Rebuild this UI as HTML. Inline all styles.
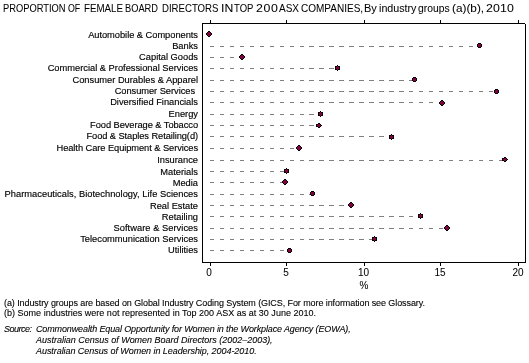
<!DOCTYPE html>
<html><head><meta charset="utf-8"><style>
html,body{margin:0;padding:0;background:#fff;width:529px;height:363px;overflow:hidden;position:relative}
body{font-family:"Liberation Sans",sans-serif;color:#000}
#wrap{position:absolute;left:0;top:0;width:529px;height:363px;will-change:transform}
.a{position:absolute;white-space:nowrap;line-height:12px;-webkit-text-stroke:0.15px #000}
svg{position:absolute;left:0;top:0;shape-rendering:crispEdges}
</style></head><body><div id="wrap">
<svg width="529" height="363" viewBox="0 0 529 363"><path d="M210 46h4v1h-4zM220 46h4v1h-4zM230 46h4v1h-4zM240 46h4v1h-4zM250 46h4v1h-4zM260 46h4v1h-4zM270 46h4v1h-4zM280 46h4v1h-4zM290 46h4v1h-4zM300 46h4v1h-4zM309 46h5v1h-5zM319 46h5v1h-5zM329 46h5v1h-5zM339 46h5v1h-5zM349 46h5v1h-5zM359 46h5v1h-5zM369 46h5v1h-5zM379 46h5v1h-5zM389 46h5v1h-5zM399 46h5v1h-5zM409 46h4v1h-4zM419 46h4v1h-4zM429 46h4v1h-4zM439 46h4v1h-4zM449 46h4v1h-4zM459 46h4v1h-4zM469 46h4v1h-4zM210 57h4v1h-4zM220 57h4v1h-4zM230 57h4v1h-4zM240 57h2v1h-2zM210 68h4v1h-4zM220 68h4v1h-4zM230 68h4v1h-4zM240 68h4v1h-4zM250 68h4v1h-4zM260 68h4v1h-4zM270 68h4v1h-4zM280 68h4v1h-4zM290 68h4v1h-4zM300 68h4v1h-4zM309 68h5v1h-5zM319 68h5v1h-5zM329 68h5v1h-5zM210 80h4v1h-4zM220 80h4v1h-4zM230 80h4v1h-4zM240 80h4v1h-4zM250 80h4v1h-4zM260 80h4v1h-4zM270 80h4v1h-4zM280 80h4v1h-4zM290 80h4v1h-4zM300 80h4v1h-4zM309 80h5v1h-5zM319 80h5v1h-5zM329 80h5v1h-5zM339 80h5v1h-5zM349 80h5v1h-5zM359 80h5v1h-5zM369 80h5v1h-5zM379 80h5v1h-5zM389 80h5v1h-5zM399 80h5v1h-5zM409 80h4v1h-4zM210 91h4v1h-4zM220 91h4v1h-4zM230 91h4v1h-4zM240 91h4v1h-4zM250 91h4v1h-4zM260 91h4v1h-4zM270 91h4v1h-4zM280 91h4v1h-4zM290 91h4v1h-4zM300 91h4v1h-4zM309 91h5v1h-5zM319 91h5v1h-5zM329 91h5v1h-5zM339 91h5v1h-5zM349 91h5v1h-5zM359 91h5v1h-5zM369 91h5v1h-5zM379 91h5v1h-5zM389 91h5v1h-5zM399 91h5v1h-5zM409 91h4v1h-4zM419 91h4v1h-4zM429 91h4v1h-4zM439 91h4v1h-4zM449 91h4v1h-4zM459 91h4v1h-4zM469 91h4v1h-4zM479 91h4v1h-4zM489 91h4v1h-4zM210 102h4v1h-4zM220 102h4v1h-4zM230 102h4v1h-4zM240 102h4v1h-4zM250 102h4v1h-4zM260 102h4v1h-4zM270 102h4v1h-4zM280 102h4v1h-4zM290 102h4v1h-4zM300 102h4v1h-4zM309 102h5v1h-5zM319 102h5v1h-5zM329 102h5v1h-5zM339 102h5v1h-5zM349 102h5v1h-5zM359 102h5v1h-5zM369 102h5v1h-5zM379 102h5v1h-5zM389 102h5v1h-5zM399 102h5v1h-5zM409 102h4v1h-4zM419 102h4v1h-4zM429 102h4v1h-4zM439 102h3v1h-3zM210 114h4v1h-4zM220 114h4v1h-4zM230 114h4v1h-4zM240 114h4v1h-4zM250 114h4v1h-4zM260 114h4v1h-4zM270 114h4v1h-4zM280 114h4v1h-4zM290 114h4v1h-4zM300 114h4v1h-4zM309 114h5v1h-5zM319 114h1v1h-1zM210 125h4v1h-4zM220 125h4v1h-4zM230 125h4v1h-4zM240 125h4v1h-4zM250 125h4v1h-4zM260 125h4v1h-4zM270 125h4v1h-4zM280 125h4v1h-4zM290 125h4v1h-4zM300 125h4v1h-4zM309 125h5v1h-5zM210 136h4v1h-4zM220 136h4v1h-4zM230 136h4v1h-4zM240 136h4v1h-4zM250 136h4v1h-4zM260 136h4v1h-4zM270 136h4v1h-4zM280 136h4v1h-4zM290 136h4v1h-4zM300 136h4v1h-4zM309 136h5v1h-5zM319 136h5v1h-5zM329 136h5v1h-5zM339 136h5v1h-5zM349 136h5v1h-5zM359 136h5v1h-5zM369 136h5v1h-5zM379 136h5v1h-5zM389 136h2v1h-2zM210 148h4v1h-4zM220 148h4v1h-4zM230 148h4v1h-4zM240 148h4v1h-4zM250 148h4v1h-4zM260 148h4v1h-4zM270 148h4v1h-4zM280 148h4v1h-4zM290 148h4v1h-4zM210 160h4v1h-4zM220 160h4v1h-4zM230 160h4v1h-4zM240 160h4v1h-4zM250 160h4v1h-4zM260 160h4v1h-4zM270 160h4v1h-4zM280 160h4v1h-4zM290 160h4v1h-4zM300 160h4v1h-4zM309 160h5v1h-5zM319 160h5v1h-5zM329 160h5v1h-5zM339 160h5v1h-5zM349 160h5v1h-5zM359 160h5v1h-5zM369 160h5v1h-5zM379 160h5v1h-5zM389 160h5v1h-5zM399 160h5v1h-5zM409 160h4v1h-4zM419 160h4v1h-4zM429 160h4v1h-4zM439 160h4v1h-4zM449 160h4v1h-4zM459 160h4v1h-4zM469 160h4v1h-4zM479 160h4v1h-4zM489 160h4v1h-4zM499 160h4v1h-4zM210 171h4v1h-4zM220 171h4v1h-4zM230 171h4v1h-4zM240 171h4v1h-4zM250 171h4v1h-4zM260 171h4v1h-4zM270 171h4v1h-4zM280 171h4v1h-4zM210 182h4v1h-4zM220 182h4v1h-4zM230 182h4v1h-4zM240 182h4v1h-4zM250 182h4v1h-4zM260 182h4v1h-4zM270 182h4v1h-4zM280 182h4v1h-4zM210 194h4v1h-4zM220 194h4v1h-4zM230 194h4v1h-4zM240 194h4v1h-4zM250 194h4v1h-4zM260 194h4v1h-4zM270 194h4v1h-4zM280 194h4v1h-4zM290 194h4v1h-4zM300 194h4v1h-4zM309 194h3v1h-3zM210 205h4v1h-4zM220 205h4v1h-4zM230 205h4v1h-4zM240 205h4v1h-4zM250 205h4v1h-4zM260 205h4v1h-4zM270 205h4v1h-4zM280 205h4v1h-4zM290 205h4v1h-4zM300 205h4v1h-4zM309 205h5v1h-5zM319 205h5v1h-5zM329 205h5v1h-5zM339 205h5v1h-5zM349 205h2v1h-2zM210 216h4v1h-4zM220 216h4v1h-4zM230 216h4v1h-4zM240 216h4v1h-4zM250 216h4v1h-4zM260 216h4v1h-4zM270 216h4v1h-4zM280 216h4v1h-4zM290 216h4v1h-4zM300 216h4v1h-4zM309 216h5v1h-5zM319 216h5v1h-5zM329 216h5v1h-5zM339 216h5v1h-5zM349 216h5v1h-5zM359 216h5v1h-5zM369 216h5v1h-5zM379 216h5v1h-5zM389 216h5v1h-5zM399 216h5v1h-5zM409 216h4v1h-4zM419 216h1v1h-1zM210 228h4v1h-4zM220 228h4v1h-4zM230 228h4v1h-4zM240 228h4v1h-4zM250 228h4v1h-4zM260 228h4v1h-4zM270 228h4v1h-4zM280 228h4v1h-4zM290 228h4v1h-4zM300 228h4v1h-4zM309 228h5v1h-5zM319 228h5v1h-5zM329 228h5v1h-5zM339 228h5v1h-5zM349 228h5v1h-5zM359 228h5v1h-5zM369 228h5v1h-5zM379 228h5v1h-5zM389 228h5v1h-5zM399 228h5v1h-5zM409 228h4v1h-4zM419 228h4v1h-4zM429 228h4v1h-4zM439 228h4v1h-4zM210 239h4v1h-4zM220 239h4v1h-4zM230 239h4v1h-4zM240 239h4v1h-4zM250 239h4v1h-4zM260 239h4v1h-4zM270 239h4v1h-4zM280 239h4v1h-4zM290 239h4v1h-4zM300 239h4v1h-4zM309 239h5v1h-5zM319 239h5v1h-5zM329 239h5v1h-5zM339 239h5v1h-5zM349 239h5v1h-5zM359 239h5v1h-5zM369 239h5v1h-5zM210 250h4v1h-4zM220 250h4v1h-4zM230 250h4v1h-4zM240 250h4v1h-4zM250 250h4v1h-4zM260 250h4v1h-4zM270 250h4v1h-4zM280 250h4v1h-4z" fill="#808080"/><path d="M208 32h1v1h-1zM209 32h1v1h-1zM207 33h1v1h-1zM208 33h1v1h-1zM209 33h1v1h-1zM210 33h1v1h-1zM207 34h1v1h-1zM208 34h1v1h-1zM209 34h1v1h-1zM210 34h1v1h-1zM208 35h1v1h-1zM209 35h1v1h-1zM478 44h1v1h-1zM479 44h1v1h-1zM480 44h1v1h-1zM478 45h1v1h-1zM479 45h1v1h-1zM480 45h1v1h-1zM478 46h1v1h-1zM479 46h1v1h-1zM480 46h1v1h-1zM241 55h1v1h-1zM242 55h1v1h-1zM240 56h1v1h-1zM241 56h1v1h-1zM242 56h1v1h-1zM243 56h1v1h-1zM240 57h1v1h-1zM241 57h1v1h-1zM242 57h1v1h-1zM243 57h1v1h-1zM241 58h1v1h-1zM242 58h1v1h-1zM337 66h1v1h-1zM336 67h1v1h-1zM337 67h1v1h-1zM338 67h1v1h-1zM336 68h1v1h-1zM337 68h1v1h-1zM338 68h1v1h-1zM337 69h1v1h-1zM413 78h1v1h-1zM414 78h1v1h-1zM415 78h1v1h-1zM413 79h1v1h-1zM414 79h1v1h-1zM415 79h1v1h-1zM413 80h1v1h-1zM414 80h1v1h-1zM415 80h1v1h-1zM495 90h1v1h-1zM496 90h1v1h-1zM497 90h1v1h-1zM495 91h1v1h-1zM496 91h1v1h-1zM497 91h1v1h-1zM495 92h1v1h-1zM496 92h1v1h-1zM497 92h1v1h-1zM441 101h1v1h-1zM442 101h1v1h-1zM440 102h1v1h-1zM441 102h1v1h-1zM442 102h1v1h-1zM443 102h1v1h-1zM440 103h1v1h-1zM441 103h1v1h-1zM442 103h1v1h-1zM443 103h1v1h-1zM441 104h1v1h-1zM442 104h1v1h-1zM320 112h1v1h-1zM319 113h1v1h-1zM320 113h1v1h-1zM321 113h1v1h-1zM319 114h1v1h-1zM320 114h1v1h-1zM321 114h1v1h-1zM320 115h1v1h-1zM318 124h1v1h-1zM319 124h1v1h-1zM317 125h1v1h-1zM318 125h1v1h-1zM319 125h1v1h-1zM320 125h1v1h-1zM318 126h1v1h-1zM319 126h1v1h-1zM391 135h1v1h-1zM390 136h1v1h-1zM391 136h1v1h-1zM392 136h1v1h-1zM390 137h1v1h-1zM391 137h1v1h-1zM392 137h1v1h-1zM391 138h1v1h-1zM298 146h1v1h-1zM299 146h1v1h-1zM297 147h1v1h-1zM298 147h1v1h-1zM299 147h1v1h-1zM300 147h1v1h-1zM297 148h1v1h-1zM298 148h1v1h-1zM299 148h1v1h-1zM300 148h1v1h-1zM298 149h1v1h-1zM299 149h1v1h-1zM504 158h1v1h-1zM505 158h1v1h-1zM503 159h1v1h-1zM504 159h1v1h-1zM505 159h1v1h-1zM506 159h1v1h-1zM504 160h1v1h-1zM505 160h1v1h-1zM286 169h1v1h-1zM285 170h1v1h-1zM286 170h1v1h-1zM287 170h1v1h-1zM285 171h1v1h-1zM286 171h1v1h-1zM287 171h1v1h-1zM286 172h1v1h-1zM284 180h1v1h-1zM285 180h1v1h-1zM283 181h1v1h-1zM284 181h1v1h-1zM285 181h1v1h-1zM286 181h1v1h-1zM283 182h1v1h-1zM284 182h1v1h-1zM285 182h1v1h-1zM286 182h1v1h-1zM284 183h1v1h-1zM285 183h1v1h-1zM311 192h1v1h-1zM312 192h1v1h-1zM313 192h1v1h-1zM311 193h1v1h-1zM312 193h1v1h-1zM313 193h1v1h-1zM311 194h1v1h-1zM312 194h1v1h-1zM313 194h1v1h-1zM350 203h1v1h-1zM351 203h1v1h-1zM349 204h1v1h-1zM350 204h1v1h-1zM351 204h1v1h-1zM352 204h1v1h-1zM349 205h1v1h-1zM350 205h1v1h-1zM351 205h1v1h-1zM352 205h1v1h-1zM350 206h1v1h-1zM351 206h1v1h-1zM420 214h1v1h-1zM419 215h1v1h-1zM420 215h1v1h-1zM421 215h1v1h-1zM419 216h1v1h-1zM420 216h1v1h-1zM421 216h1v1h-1zM420 217h1v1h-1zM446 226h1v1h-1zM447 226h1v1h-1zM445 227h1v1h-1zM446 227h1v1h-1zM447 227h1v1h-1zM448 227h1v1h-1zM445 228h1v1h-1zM446 228h1v1h-1zM447 228h1v1h-1zM448 228h1v1h-1zM446 229h1v1h-1zM447 229h1v1h-1zM374 237h1v1h-1zM373 238h1v1h-1zM374 238h1v1h-1zM375 238h1v1h-1zM373 239h1v1h-1zM374 239h1v1h-1zM375 239h1v1h-1zM374 240h1v1h-1zM288 249h1v1h-1zM289 249h1v1h-1zM290 249h1v1h-1zM288 250h1v1h-1zM289 250h1v1h-1zM290 250h1v1h-1zM288 251h1v1h-1zM289 251h1v1h-1zM290 251h1v1h-1z" fill="#800040"/><path d="M202 23h1v240h-1zM202 23h323v1h-323zM525 24h1v239h-1zM202 262h324v1h-324zM210 20h1v3h-1zM210 263h1v3h-1zM286 20h1v3h-1zM286 263h1v3h-1zM364 20h1v3h-1zM364 263h1v3h-1zM440 20h1v3h-1zM440 263h1v3h-1zM518 20h1v3h-1zM518 263h1v3h-1zM208 31h1v1h-1zM209 31h1v1h-1zM207 32h1v1h-1zM210 32h1v1h-1zM206 33h1v1h-1zM211 33h1v1h-1zM206 34h1v1h-1zM211 34h1v1h-1zM207 35h1v1h-1zM210 35h1v1h-1zM208 36h1v1h-1zM209 36h1v1h-1zM478 43h1v1h-1zM479 43h1v1h-1zM480 43h1v1h-1zM477 44h1v1h-1zM481 44h1v1h-1zM477 45h1v1h-1zM481 45h1v1h-1zM477 46h1v1h-1zM481 46h1v1h-1zM478 47h1v1h-1zM479 47h1v1h-1zM480 47h1v1h-1zM241 54h1v1h-1zM242 54h1v1h-1zM240 55h1v1h-1zM243 55h1v1h-1zM239 56h1v1h-1zM244 56h1v1h-1zM239 57h1v1h-1zM244 57h1v1h-1zM240 58h1v1h-1zM243 58h1v1h-1zM241 59h1v1h-1zM242 59h1v1h-1zM337 65h1v1h-1zM335 66h1v1h-1zM336 66h1v1h-1zM338 66h1v1h-1zM339 66h1v1h-1zM335 67h1v1h-1zM339 67h1v1h-1zM335 68h1v1h-1zM339 68h1v1h-1zM335 69h1v1h-1zM336 69h1v1h-1zM338 69h1v1h-1zM339 69h1v1h-1zM337 70h1v1h-1zM413 77h1v1h-1zM414 77h1v1h-1zM415 77h1v1h-1zM412 78h1v1h-1zM416 78h1v1h-1zM412 79h1v1h-1zM416 79h1v1h-1zM412 80h1v1h-1zM416 80h1v1h-1zM413 81h1v1h-1zM414 81h1v1h-1zM415 81h1v1h-1zM495 89h1v1h-1zM496 89h1v1h-1zM497 89h1v1h-1zM494 90h1v1h-1zM498 90h1v1h-1zM494 91h1v1h-1zM498 91h1v1h-1zM494 92h1v1h-1zM498 92h1v1h-1zM495 93h1v1h-1zM496 93h1v1h-1zM497 93h1v1h-1zM441 100h1v1h-1zM442 100h1v1h-1zM440 101h1v1h-1zM443 101h1v1h-1zM439 102h1v1h-1zM444 102h1v1h-1zM439 103h1v1h-1zM444 103h1v1h-1zM440 104h1v1h-1zM443 104h1v1h-1zM441 105h1v1h-1zM442 105h1v1h-1zM320 111h1v1h-1zM318 112h1v1h-1zM319 112h1v1h-1zM321 112h1v1h-1zM322 112h1v1h-1zM318 113h1v1h-1zM322 113h1v1h-1zM318 114h1v1h-1zM322 114h1v1h-1zM318 115h1v1h-1zM319 115h1v1h-1zM321 115h1v1h-1zM322 115h1v1h-1zM320 116h1v1h-1zM318 123h1v1h-1zM319 123h1v1h-1zM316 124h1v1h-1zM317 124h1v1h-1zM320 124h1v1h-1zM316 125h1v1h-1zM321 125h1v1h-1zM316 126h1v1h-1zM317 126h1v1h-1zM320 126h1v1h-1zM318 127h1v1h-1zM319 127h1v1h-1zM391 134h1v1h-1zM389 135h1v1h-1zM390 135h1v1h-1zM392 135h1v1h-1zM393 135h1v1h-1zM389 136h1v1h-1zM393 136h1v1h-1zM389 137h1v1h-1zM393 137h1v1h-1zM389 138h1v1h-1zM390 138h1v1h-1zM392 138h1v1h-1zM393 138h1v1h-1zM391 139h1v1h-1zM298 145h1v1h-1zM299 145h1v1h-1zM297 146h1v1h-1zM300 146h1v1h-1zM296 147h1v1h-1zM301 147h1v1h-1zM296 148h1v1h-1zM301 148h1v1h-1zM297 149h1v1h-1zM300 149h1v1h-1zM298 150h1v1h-1zM299 150h1v1h-1zM504 157h1v1h-1zM505 157h1v1h-1zM502 158h1v1h-1zM503 158h1v1h-1zM506 158h1v1h-1zM502 159h1v1h-1zM507 159h1v1h-1zM502 160h1v1h-1zM503 160h1v1h-1zM506 160h1v1h-1zM504 161h1v1h-1zM505 161h1v1h-1zM286 168h1v1h-1zM284 169h1v1h-1zM285 169h1v1h-1zM287 169h1v1h-1zM288 169h1v1h-1zM284 170h1v1h-1zM288 170h1v1h-1zM284 171h1v1h-1zM288 171h1v1h-1zM284 172h1v1h-1zM285 172h1v1h-1zM287 172h1v1h-1zM288 172h1v1h-1zM286 173h1v1h-1zM284 179h1v1h-1zM285 179h1v1h-1zM283 180h1v1h-1zM286 180h1v1h-1zM282 181h1v1h-1zM287 181h1v1h-1zM282 182h1v1h-1zM287 182h1v1h-1zM283 183h1v1h-1zM286 183h1v1h-1zM284 184h1v1h-1zM285 184h1v1h-1zM311 191h1v1h-1zM312 191h1v1h-1zM313 191h1v1h-1zM310 192h1v1h-1zM314 192h1v1h-1zM310 193h1v1h-1zM314 193h1v1h-1zM310 194h1v1h-1zM314 194h1v1h-1zM311 195h1v1h-1zM312 195h1v1h-1zM313 195h1v1h-1zM350 202h1v1h-1zM351 202h1v1h-1zM349 203h1v1h-1zM352 203h1v1h-1zM348 204h1v1h-1zM353 204h1v1h-1zM348 205h1v1h-1zM353 205h1v1h-1zM349 206h1v1h-1zM352 206h1v1h-1zM350 207h1v1h-1zM351 207h1v1h-1zM420 213h1v1h-1zM418 214h1v1h-1zM419 214h1v1h-1zM421 214h1v1h-1zM422 214h1v1h-1zM418 215h1v1h-1zM422 215h1v1h-1zM418 216h1v1h-1zM422 216h1v1h-1zM418 217h1v1h-1zM419 217h1v1h-1zM421 217h1v1h-1zM422 217h1v1h-1zM420 218h1v1h-1zM446 225h1v1h-1zM447 225h1v1h-1zM445 226h1v1h-1zM448 226h1v1h-1zM444 227h1v1h-1zM449 227h1v1h-1zM444 228h1v1h-1zM449 228h1v1h-1zM445 229h1v1h-1zM448 229h1v1h-1zM446 230h1v1h-1zM447 230h1v1h-1zM374 236h1v1h-1zM372 237h1v1h-1zM373 237h1v1h-1zM375 237h1v1h-1zM376 237h1v1h-1zM372 238h1v1h-1zM376 238h1v1h-1zM372 239h1v1h-1zM376 239h1v1h-1zM372 240h1v1h-1zM373 240h1v1h-1zM375 240h1v1h-1zM376 240h1v1h-1zM374 241h1v1h-1zM288 248h1v1h-1zM289 248h1v1h-1zM290 248h1v1h-1zM287 249h1v1h-1zM291 249h1v1h-1zM287 250h1v1h-1zM291 250h1v1h-1zM287 251h1v1h-1zM291 251h1v1h-1zM288 252h1v1h-1zM289 252h1v1h-1zM290 252h1v1h-1z" fill="#000"/></svg>

<div id="tw0" class="a" style="left:3px;top:2px;font-size:11px;letter-spacing:0px;transform:scale(0.8472,1.0);transform-origin:0 0;-webkit-text-stroke:0.05px #000">PROPORTION</div>
<div id="tw1" class="a" style="left:68px;top:2px;font-size:11px;letter-spacing:0px;transform:scale(0.8,1.0);transform-origin:0 0;-webkit-text-stroke:0.05px #000">OF</div>
<div id="tw2" class="a" style="left:84px;top:2px;font-size:11px;letter-spacing:0px;transform:scale(0.885,1.0);transform-origin:0 0;-webkit-text-stroke:0.05px #000">FEMALE</div>
<div id="tw3" class="a" style="left:125px;top:2px;font-size:11px;letter-spacing:0px;transform:scale(0.8421,1.0);transform-origin:0 0;-webkit-text-stroke:0.05px #000">BOARD</div>
<div id="tw4" class="a" style="left:162px;top:2px;font-size:11px;letter-spacing:0px;transform:scale(0.873,1.0);transform-origin:0 0;-webkit-text-stroke:0.05px #000">DIRECTORS</div>
<div id="tw5" class="a" style="left:221px;top:2px;font-size:11px;letter-spacing:0px;transform:scale(1.1111,1.0);transform-origin:0 0;-webkit-text-stroke:0.05px #000">IN</div>
<div id="tw6" class="a" style="left:234px;top:2px;font-size:11px;letter-spacing:0px;transform:scale(0.8636,1.0);transform-origin:0 0;-webkit-text-stroke:0.05px #000">TOP</div>
<div id="tw7" class="a" style="left:256px;top:2px;font-size:11px;letter-spacing:0.6px;transform:scale(1.12,1.0);transform-origin:0 0;-webkit-text-stroke:0.05px #000">200</div>
<div id="tw8" class="a" style="left:279px;top:2px;font-size:11px;letter-spacing:0px;transform:scale(0.9091,1.0);transform-origin:0 0;-webkit-text-stroke:0.05px #000">ASX</div>
<div id="tw9" class="a" style="left:301px;top:2px;font-size:11px;letter-spacing:0px;transform:scale(0.9104,1.0);transform-origin:0 0;-webkit-text-stroke:0.05px #000">COMPANIES,</div>
<div id="tw10" class="a" style="left:364px;top:2px;font-size:11px;letter-spacing:0px;-webkit-text-stroke:0.05px #000">By</div>
<div id="tw11" class="a" style="left:379px;top:2px;font-size:11px;letter-spacing:0px;transform:scale(0.973,1.0);transform-origin:0 0;-webkit-text-stroke:0.05px #000">industry</div>
<div id="tw12" class="a" style="left:418px;top:2px;font-size:11px;letter-spacing:0px;transform:scale(0.9394,1.0);transform-origin:0 0;-webkit-text-stroke:0.05px #000">groups</div>
<div id="tw13" class="a" style="left:452px;top:2px;font-size:11px;letter-spacing:0px;transform:scale(1.0714,1.0);transform-origin:0 0;-webkit-text-stroke:0.05px #000">(a)(b),</div>
<div id="tw14" class="a" style="left:486px;top:2px;font-size:11px;letter-spacing:0.1667px;transform:scale(1.12,1.0);transform-origin:0 0;-webkit-text-stroke:0.05px #000">2010</div>
<div id="lab0" class="a" style="right:331px;top:29.0px;font-size:9.3px;letter-spacing:-0.0318px">Automobile &amp; Components</div>
<div id="lab1" class="a" style="right:331px;top:40.0px;font-size:9.3px;letter-spacing:0px">Banks</div>
<div id="lab2" class="a" style="right:331px;top:51.0px;font-size:9.3px;letter-spacing:0px">Capital Goods</div>
<div id="lab3" class="a" style="right:331px;top:62.0px;font-size:9.3px;letter-spacing:0.0px">Commercial &amp; Professional Services</div>
<div id="lab4" class="a" style="right:331px;top:74.0px;font-size:9.3px;letter-spacing:0.0px">Consumer Durables &amp; Apparel</div>
<div id="lab5" class="a" style="right:334px;top:85.0px;font-size:9.3px;letter-spacing:-0.0437px">Consumer Services</div>
<div id="lab6" class="a" style="right:331px;top:96.0px;font-size:9.3px;letter-spacing:0.0px">Diversified Financials</div>
<div id="lab7" class="a" style="right:331px;top:108.0px;font-size:9.3px;letter-spacing:0px">Energy</div>
<div id="lab8" class="a" style="right:331px;top:119.0px;font-size:9.3px;letter-spacing:-0.0636px">Food Beverage &amp; Tobacco</div>
<div id="lab9" class="a" style="right:331px;top:130.0px;font-size:9.3px;letter-spacing:-0.0807px">Food &amp; Staples Retailing(d)</div>
<div id="lab10" class="a" style="right:331px;top:142.0px;font-size:9.3px;letter-spacing:-0.0678px">Health Care Equipment &amp; Services</div>
<div id="lab11" class="a" style="right:331px;top:154.0px;font-size:9.3px;letter-spacing:0px">Insurance</div>
<div id="lab12" class="a" style="right:331px;top:166.0px;font-size:9.3px;letter-spacing:0px">Materials</div>
<div id="lab13" class="a" style="right:331px;top:177.0px;font-size:9.3px;letter-spacing:0px">Media</div>
<div id="lab14" class="a" style="right:331px;top:188.0px;font-size:9.3px;letter-spacing:0.0318px">Pharmaceuticals, Biotechnology, Life Sciences</div>
<div id="lab15" class="a" style="right:331px;top:200.0px;font-size:9.3px;letter-spacing:0px">Real Estate</div>
<div id="lab16" class="a" style="right:331px;top:211.0px;font-size:9.3px;letter-spacing:0px">Retailing</div>
<div id="lab17" class="a" style="right:331px;top:222.0px;font-size:9.3px;letter-spacing:0.0389px">Software &amp; Services</div>
<div id="lab18" class="a" style="right:331px;top:233.0px;font-size:9.3px;letter-spacing:0.0px">Telecommunication Services</div>
<div id="lab19" class="a" style="right:331px;top:244.0px;font-size:9.3px;letter-spacing:0px">Utilities</div>
<div id="xl0" class="a" style="left:189px;top:267px;font-size:10px;width:40px;text-align:center;letter-spacing:0px;-webkit-text-stroke:0.05px #000">0</div>
<div id="xl1" class="a" style="left:266px;top:267px;font-size:10px;width:40px;text-align:center;letter-spacing:0px;-webkit-text-stroke:0.05px #000">5</div>
<div id="xl2" class="a" style="left:343.5px;top:267px;font-size:10px;width:40px;text-align:center;letter-spacing:0px;-webkit-text-stroke:0.05px #000">10</div>
<div id="xl3" class="a" style="left:420px;top:267px;font-size:10px;width:40px;text-align:center;letter-spacing:0px;-webkit-text-stroke:0.05px #000">15</div>
<div id="xl4" class="a" style="left:498px;top:267px;font-size:10px;width:40px;text-align:center;letter-spacing:0px;-webkit-text-stroke:0.05px #000">20</div>
<div id="pct" class="a" style="left:344px;top:280px;font-size:10px;width:40px;text-align:center;letter-spacing:0px;-webkit-text-stroke:0.05px #000">%</div>
<div id="fa" class="a" style="left:4px;top:297px;font-size:9px;letter-spacing:-0.0874px;-webkit-text-stroke:0.1px #000">(a) Industry groups are based on Global Industry Coding System (GICS, For more information see Glossary.</div>
<div id="fb" class="a" style="left:4px;top:307px;font-size:9px;letter-spacing:0.0135px;-webkit-text-stroke:0.1px #000">(b) Some industries were not represented in Top 200 ASX as at 30 June 2010.</div>
<div id="s0" class="a" style="left:4px;top:323px;font-size:9px;font-style:italic;letter-spacing:-0.5px;-webkit-text-stroke:0.1px #000">Source:</div>
<div id="s1" class="a" style="left:36px;top:323px;font-size:9px;font-style:italic;letter-spacing:-0.1268px;-webkit-text-stroke:0.1px #000">Commonwealth Equal Opportunity for Women in the Workplace Agency (EOWA),</div>
<div id="s2" class="a" style="left:36px;top:334px;font-size:9px;font-style:italic;letter-spacing:-0.0185px;-webkit-text-stroke:0.1px #000">Australian Census of Women Board Directors (2002&ndash;2003),</div>
<div id="s3" class="a" style="left:36px;top:345px;font-size:9px;font-style:italic;letter-spacing:-0.0588px;-webkit-text-stroke:0.1px #000">Australian Census of Women in Leadership, 2004-2010.</div>

</div></body></html>
